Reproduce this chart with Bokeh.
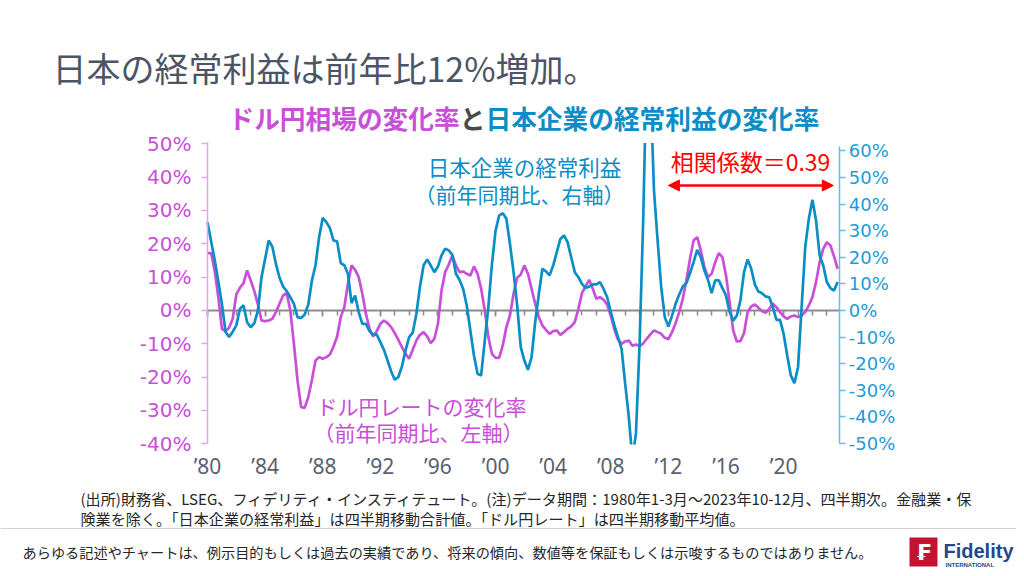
from bokeh.plotting import figure
from bokeh.models import (Range1d, LinearAxis, FixedTicker, PrintfTickFormatter,
                          Label, BoxAnnotation, Arrow, NormalHead)
from bokeh.embed import file_html
from bokeh.resources import INLINE

# ---------------- data (quarterly, 1980Q1 - 2023Q4) ----------------
start_year = 1980
# USD/JPY rate, YoY % (4-quarter moving average) - left axis
usdjpy_yoy = [
    17.2, 17.2, 12, 4, -5.5, -6.2, -5.2, -2.5, 4.8, 6.8,
    8.2, 12, 9, 5.8, 1.8, -3, -3.2, -3, -2.5, -0.5,
    2, 4.5, 5.2, 0, -10, -21, -29, -29.2, -26, -20.8,
    -15, -14, -14.5, -14, -13.2, -10.8, -7.8, -2, 1, 8,
    13.5, 12.2, 10, 5,
    -1, -5.5, -7.8, -6.2, -4, -3, -3.8, -5, -6.8, -8.8,
    -11, -13, -14.5, -11.8, -9, -7.3, -6.5, -7.8, -9.8, -8.5,
    -4, 6, 11.5, 13.8, 16.5, 13.5, 11.5, 11.7, 11, 10.5,
    13.2, 11, 6.5, 0, -8, -13, -14.2, -14.2, -10.5, -5,
    -1.5, 5, 9.8, 10.8, 13.5,
    11, 6.5, 2, -2, -4.5, -5.8, -7, -6.2, -6, -7.3,
    -6.5, -5.5, -4.8, -3.5, 0.5, 5.2, 7.3, 9.2, 6.5, 3.5,
    4, 3.2, 1.7, -1.5, -5.7, -8.7, -10, -9.3, -9, -10.6,
    -10.2, -10.7, -9.9, -8.5, -7.2, -6, -6.5, -7, -8.2, -8.6,
    -6.5, -3.8, -0.5,
    3.5, 9, 15.5, 21, 22, 18, 13, 10, 11, 14.5,
    17.2, 16, 10.5, 2.5, -6, -9.3, -9.2, -6.8, -0.5, 1.2,
    1.8, 0.8, -0.2, -0.7, 0.5, 2, 1, -0.5, -1.8, -2.5,
    -1.8, -1.5, -2, -1.5, -0.5, 1.5, 4, 8.5, 14.5, 18.5,
    20.5, 19.5, 16.2, 12.5,
]
# Japanese corporate recurring profits, YoY % (4-quarter moving sum) - right axis
profit_yoy = [
    33.2, 26, 19, 11, 2.5, -8, -10, -8, -5.6, 0.6,
    2, -4.4, -6.3, -4.8, 0, 12.5, 19.4, 26.3, 24, 17.5,
    12.3, 9, 7.3, 5, 2.5, -2.5, -2.8, -1.5, 2.3, 11.3,
    17, 27.6, 34.8, 33.2, 31, 26.3, 26, 17.8, 17, 13.8,
    2.8, 5.6, -0.6, -5,
    -5, -7.8, -9.1, -9, -11.9, -14.8, -18.8, -22.8, -26, -25,
    -21, -15, -10, -8.3, -1.3, 8.8, 16.9, 19.2, 16.9, 14.4,
    16.5, 20.7, 23.2, 22.6, 20.9, 13.8, 11.5, 8.1, 1.9, -7.5,
    -16.9, -23.8, -24.4, -11.3, 1.3, 17.5, 30, 35.7, 36.6, 34.5,
    25, 14.4, 1.9, -13.8, -18.8,
    -22.3, -17.5, -4.4, 6, 15.7, 14.7, 13.2, 16.9, 21.9, 26.9,
    28.2, 25.7, 20, 14.4, 12.5, 10, 8.5, 9, 9.8, 9.8,
    10.7, 8.1, 5, -0.6, -5.6, -10, -14.4, -27.6, -40, -56,
    -46, -12.5, 34, 95, 85, 45, 26.3, 8.8, -2.5, -6,
    -1.9, 2.5, 6,
    9, 10.3, 14, 18.2, 22.8, 20, 15, 11.5, 6.5, 11.3,
    11.3, 8.4, 5.6, -0.6, -3.8, -1.9, 3.8, 14.4, 19.2, 15.7,
    9.8, 7.1, 6.5, 5.3, 5, 1.3, -3.5, -3.5, -8.8, -16.9,
    -24.4, -27.3, -21.3, 1.3, 23.8, 34.5, 41.6, 33.8, 20.7, 16.9,
    10.7, 8.4, 7.5, 10.7,
]
quarters = [start_year + i / 4 for i in range(len(profit_yoy))]

label_years = [1980, 1984, 1988, 1992, 1996, 2000, 2004, 2008, 2012, 2016, 2020]
label_texts = ["’80", "’84", "’88", "’92", "’96", "’00", "’04", "’08", "’12", "’16", "’20"]
all_years = list(range(1980, 2024))
left_ticks = [-40, -30, -20, -10, 0, 10, 20, 30, 40, 50]
right_ticks = [-50, -40, -30, -20, -10, 0, 10, 20, 30, 40, 50, 60]
x_start, x_end = 1980, 2023.9
left_lo, left_hi = -40, 50
right_lo, right_hi = -50.1, 61.8
corr_period = (2012.0, 2023.45)
corr_text = "相関係数＝0.39"

# ---------------- layout (pixels) ----------------
W, H = 1016, 568
PL, PR = 207, 839.3          # plot area left / right (px)
PT, PB = 143.3, 443.3        # plot area top / bottom (px)
R0, RK = 310.0, 2.661        # right axis: px of 0 %, px per 1 %

kx = (PR - PL) / (x_end - x_start)
ky = (PB - PT) / (left_hi - left_lo)

PINK = "#C84FD8"
PINK_AX = "#E3A3EE"
BLUE = "#0B8DC6"
BLUE_LBL = "#1B9BD8"
BLUE_AX = "#63BDE8"
TITLE_C = "#4D5465"
CJK = "Noto Sans CJK JP"

p = figure(width=W, height=H, output_backend="svg", toolbar_location=None,
           x_range=Range1d(x_start - PL / kx, x_start + (W - PL) / kx),
           y_range=Range1d(left_lo - (H - PB) / ky, left_hi + PT / ky),
           x_axis_type=None, y_axis_type=None,
           min_border=0, min_border_left=0, min_border_right=0,
           min_border_top=0, min_border_bottom=0)
p.extra_y_ranges = {"right": Range1d(-(H - R0) / RK, R0 / RK)}
p.outline_line_color = None
p.grid.visible = False
p.background_fill_color = "white"
p.border_fill_color = "white"

# zero line with year ticks
za = LinearAxis(ticker=FixedTicker(ticks=label_years, minor_ticks=all_years),
                fixed_location=0, bounds=(x_start, x_end))
za.axis_line_color = "#8C8C8C"
za.axis_line_width = 2
za.major_tick_line_color = "#8C8C8C"
za.major_tick_line_width = 1.5
za.major_tick_out = 6
za.major_tick_in = 0
za.minor_tick_line_color = "#8C8C8C"
za.minor_tick_line_width = 1.5
za.minor_tick_out = 5
za.minor_tick_in = 0
za.major_label_text_alpha = 0
za.major_label_text_font_size = "1px"
za.level = "underlay"
p.add_layout(za, "below")

# series
p.line(quarters, usdjpy_yoy, line_color=PINK, line_width=2.7)
p.line(quarters, profit_yoy, line_color=BLUE, line_width=2.7, y_range_name="right")


def sbox(l, r, t, b, color):
    p.add_layout(BoxAnnotation(left=l, right=r, top=H - t, bottom=H - b,
                               left_units="screen", right_units="screen", top_units="screen",
                               bottom_units="screen", fill_color=color, fill_alpha=1,
                               line_color=None))


# white masks so the series stay inside the plot area
sbox(0, W, 0, PT - 0.8, "white")
sbox(0, W, PB + 0.8, H, "white")

# left axis
la = LinearAxis(ticker=FixedTicker(ticks=left_ticks), formatter=PrintfTickFormatter(format="%d%%"),
                fixed_location=x_start, bounds=(left_lo, left_hi + 0.5))
la.axis_line_color = PINK_AX
la.axis_line_width = 1.5
la.major_tick_line_color = PINK_AX
la.major_tick_line_width = 1.5
la.major_tick_out = 6
la.major_tick_in = 0
la.minor_tick_line_color = None
la.major_label_text_color = PINK
la.major_label_text_font = "DejaVu Sans"
la.major_label_text_font_size = "20px"
la.major_label_standoff = 10
la.level = "overlay"
p.add_layout(la, "left")

# right axis
ra = LinearAxis(y_range_name="right", ticker=FixedTicker(ticks=right_ticks),
                formatter=PrintfTickFormatter(format="%d%%"),
                fixed_location=x_end, bounds=(right_lo, right_hi))
ra.axis_line_color = BLUE_AX
ra.axis_line_width = 1.5
ra.major_tick_line_color = BLUE_AX
ra.major_tick_line_width = 1.5
ra.major_tick_out = 6
ra.major_tick_in = 0
ra.minor_tick_line_color = None
ra.major_label_text_color = BLUE_LBL
ra.major_label_text_font = "DejaVu Sans"
ra.major_label_text_font_size = "18px"
ra.major_label_standoff = 3
ra.level = "overlay"
p.add_layout(ra, "right")

# bottom year labels
ba = LinearAxis(ticker=FixedTicker(ticks=label_years), fixed_location=left_lo,
                major_label_overrides={y: t for y, t in zip(label_years, label_texts)})
ba.axis_line_color = None
ba.major_tick_line_color = None
ba.minor_tick_line_color = None
ba.major_tick_out = 0
ba.major_label_text_color = "#596070"
ba.major_label_text_font = "Noto Sans"
ba.major_label_text_font_size = "21px"
ba.major_label_standoff = 8
ba.level = "overlay"
p.add_layout(ba, "below")


# ---------- text helper (page px -> screen units) ----------
def lab(text, x, y, size, color, align="left", font=CJK, style="normal"):
    p.add_layout(Label(x=x, y=H - y, x_units="screen", y_units="screen", text=text,
                       text_font=font, text_font_size=size, text_color=color,
                       text_align=align, text_baseline="middle", text_font_style=style))


lab("日本の経常利益は前年比12%増加。", 52, 67, "34px", TITLE_C)

sub_size = 25.7
lab("ドル円相場の変化率", 228, 117, f"{sub_size}px", PINK, style="bold")
lab("と", 228 + 9 * sub_size, 117, f"{sub_size}px", "#4A4A4A", style="bold")
lab("日本企業の経常利益の変化率", 228 + 10 * sub_size, 117, f"{sub_size}px", BLUE, style="bold")

lab("日本企業の経常利益", 524, 166, "21.5px", BLUE, align="center")
lab("（前年同期比、右軸）", 519, 193, "21px", BLUE, align="center")
lab("ドル円レートの変化率", 421, 405, "21px", PINK, align="center")
lab("（前年同期比、左軸）", 418, 431, "21px", PINK, align="center")
lab(corr_text, 750, 160, "23px", "#FF0000", align="center")

p.add_layout(Arrow(x_start=corr_period[0], x_end=corr_period[1], y_start=37.5, y_end=37.5,
                   line_color="#FF0000", line_width=2.5,
                   start=NormalHead(size=11, fill_color="#FF0000", line_color="#FF0000"),
                   end=NormalHead(size=11, fill_color="#FF0000", line_color="#FF0000")))

lab("(出所)財務省、LSEG、フィデリティ・インスティテュート。(注)データ期間：1980年1-3月～2023年10-12月、四半期次。金融業・保",
    80, 497, "15.1px", "#262626")
lab("険業を除く。「日本企業の経常利益」は四半期移動合計値。「ドル円レート」は四半期移動平均値。",
    80, 517, "15.1px", "#262626")

# separator
sbox(0, W, 527.5, 528.5, "#D0D0D0")

lab("あらゆる記述やチャートは、例示目的もしくは過去の実績であり、将来の傾向、数値等を保証もしくは示唆するものではありません。",
    22, 551, "14.2px", "#262626")

# logo
sbox(909, 937, 537, 566, "#C4122F")
lab("₣", 923, 552, "22px", "white", align="center", font="DejaVu Sans", style="bold")
lab("Fidelity", 943, 550, "20px", "#24478F", font="Liberation Sans", style="bold")
lab("INTERNATIONAL", 945, 564, "6px", "#24478F", font="Liberation Sans", style="bold")

open("out.html", "w").write(file_html(p, INLINE))
